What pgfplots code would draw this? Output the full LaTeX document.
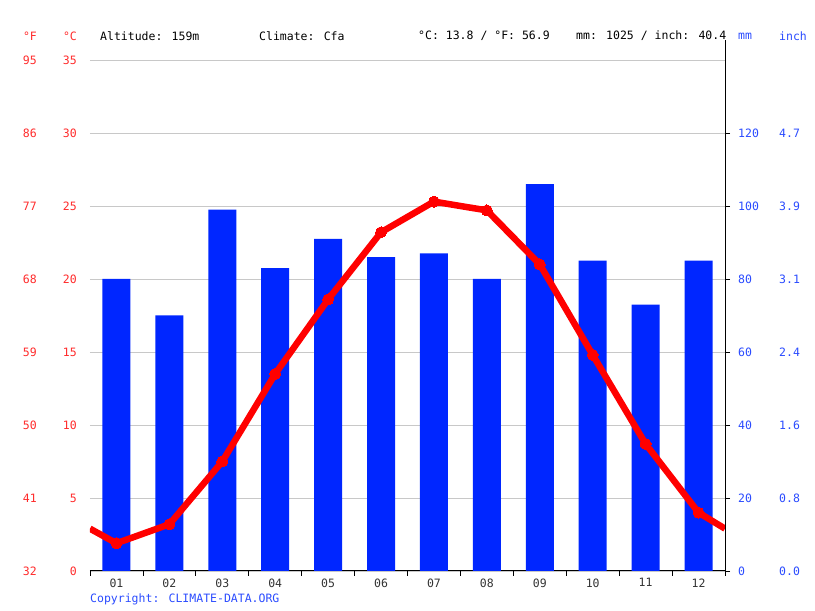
\documentclass[border=0pt]{standalone}
\usepackage{fontspec}
\setmainfont{DejaVu Sans Mono}
\usepackage{pgfplots}
\usepackage{pgfplotstable}
\pgfplotsset{compat=1.18}

\definecolor{barblue}{HTML}{0026FF}
\definecolor{linered}{HTML}{FF0000}
\definecolor{labred}{HTML}{FF2A2A}
\definecolor{labblue}{HTML}{2A4BFF}
\definecolor{gridgray}{HTML}{C8C8C8}
\definecolor{monthgray}{HTML}{333333}

% precipitation, mm
\pgfplotstableread{
x    mm
0.5  80
1.5  70
2.5  99
3.5  83
4.5  91
5.5  86
6.5  87
7.5  80
8.5  106
9.5  85
10.5 73
11.5 85
}\precip

% temperature, deg C (first and last rows: where the line meets the frame)
\pgfplotstableread{
x    t
0    2.9
0.5  1.9
1.5  3.2
2.5  7.5
3.5  13.5
4.5  18.6
5.5  23.2
6.5  25.3
7.5  24.7
8.5  21.0
9.5  14.8
10.5 8.7
11.5 4.0
12   2.9
}\temp

\begin{document}
\begin{tikzpicture}[font=\fontsize{11.5}{13}\selectfont]
\path[use as bounding box] (-90pt,-40pt) rectangle (725pt,571pt);

% bars, right axis (mm / inch)
\begin{axis}[
  at={(0,0)}, anchor=south west,
  scale only axis, width=635pt, height=511pt,
  xmin=0, xmax=12, ymin=0, ymax=140,
  axis x line*=bottom, axis y line*=right,
  axis line style={black, line width=1pt},
  tick align=outside, major tick length=5pt,
  tick style={black, line width=0.8pt},
  xtick={0,...,12}, x tick label as interval,
  xticklabels={01,02,03,04,05,06,07,08,09,10,11,12},
  xticklabel style={text=monthgray, yshift=1pt},
  ytick={0,20,...,120},
  yticklabels={
    \makebox[41pt][l]{0}0.0,
    \makebox[41pt][l]{20}0.8,
    \makebox[41pt][l]{40}1.6,
    \makebox[41pt][l]{60}2.4,
    \makebox[41pt][l]{80}3.1,
    \makebox[41pt][l]{100}3.9,
    \makebox[41pt][l]{120}4.7},
  yticklabel style={text=labblue, anchor=west, inner sep=0pt, xshift=8pt},
  ymajorgrids, extra y ticks={140}, extra y tick labels={},
  extra y tick style={major tick length=0pt, ymajorgrids},
  grid style={gridgray, line width=0.8pt},
  ybar, bar width=28pt,
]
\addplot[draw=none, fill=barblue] table[x=x, y=mm] {\precip};
\end{axis}

% temperature, left axis (deg F / deg C)
\begin{axis}[
  at={(0,0)}, anchor=south west,
  scale only axis, width=635pt, height=511pt,
  xmin=0, xmax=12, ymin=0, ymax=35,
  axis x line=none, axis y line*=left,
  y axis line style={draw=none},
  major tick length=0pt,
  ytick={0,5,...,35},
  yticklabels={
    \makebox[24pt][r]{32}\makebox[40pt][r]{0},
    \makebox[24pt][r]{41}\makebox[40pt][r]{5},
    \makebox[24pt][r]{50}\makebox[40pt][r]{10},
    \makebox[24pt][r]{59}\makebox[40pt][r]{15},
    \makebox[24pt][r]{68}\makebox[40pt][r]{20},
    \makebox[24pt][r]{77}\makebox[40pt][r]{25},
    \makebox[24pt][r]{86}\makebox[40pt][r]{30},
    \makebox[24pt][r]{95}\makebox[40pt][r]{35}},
  yticklabel style={text=labred, anchor=east, inner sep=0pt, xshift=-13pt},
]
\addplot[linered, line width=6.5pt, line join=round,
  mark=*, mark size=5.5pt, mark indices={2,...,13},
  mark options={fill=linered, draw=linered, line width=0pt}]
  table[x=x, y=t] {\temp};
\end{axis}

% right frame line runs above the plot area
\draw[black, line width=1pt] (635pt,0pt) -- (635pt,531pt);

% header and footer
\node[text=labred]  at (-60pt,535pt) {°F};
\node[text=labred]  at (-20pt,535pt) {°C};
\node[text=labblue] at (655pt,535pt) {mm};
\node[text=labblue] at (703pt,535pt) {inch};
\begin{scope}[every node/.style={anchor=west, inner sep=0pt}]
\node at (10pt,535pt)  {Altitude: 159m};
\node at (169pt,535pt) {Climate: Cfa};
\node at (328pt,535pt) {°C: 13.8 / °F: 56.9};
\node at (486pt,535pt) {mm: 1025 / inch: 40.4};
\node[text=labblue] at (0pt,-28pt) {Copyright: CLIMATE-DATA.ORG};
\end{scope}
\end{tikzpicture}
\end{document}
